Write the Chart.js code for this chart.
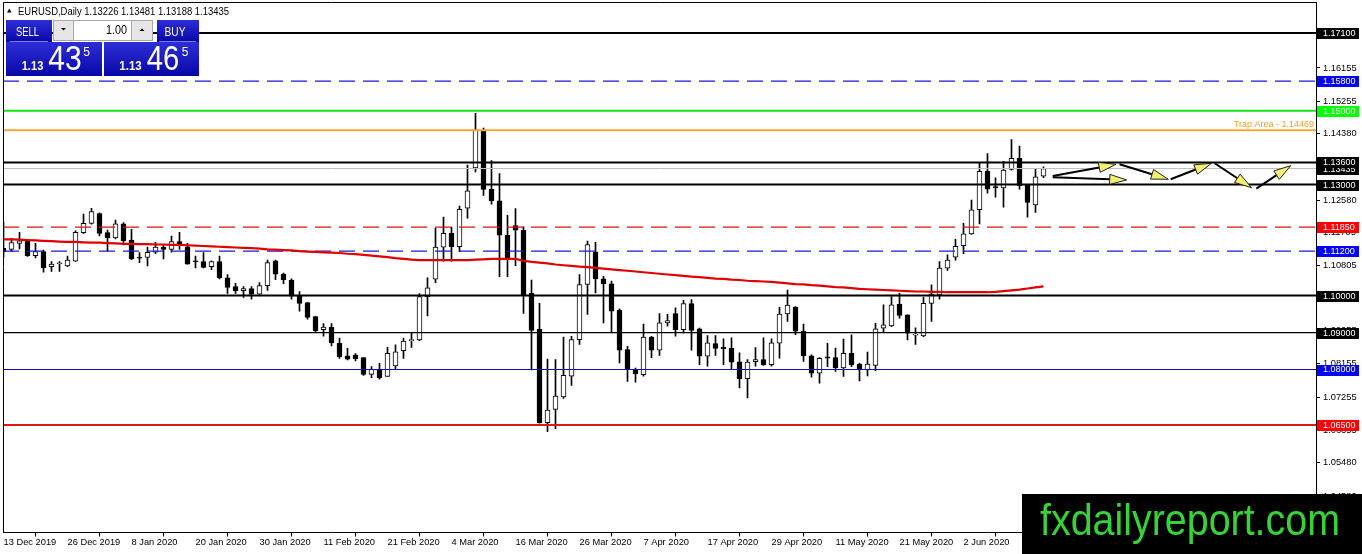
<!DOCTYPE html>
<html><head><meta charset="utf-8">
<script src="https://cdn.jsdelivr.net/npm/chart.js@4.4.0/dist/chart.umd.min.js"></script>
<style>
html,body{margin:0;padding:0;background:#fff;overflow:hidden;}
canvas{display:block;}
</style></head><body>
<canvas id="c" width="1362" height="554"></canvas>
<script>
// ---------------- DATA ----------------
const dateLabels = ["13 Dec 2019","26 Dec 2019","8 Jan 2020","20 Jan 2020","30 Jan 2020","11 Feb 2020","21 Feb 2020","4 Mar 2020","16 Mar 2020","26 Mar 2020","7 Apr 2020","17 Apr 2020","29 Apr 2020","11 May 2020","21 May 2020","2 Jun 2020"];
const dateTickBars = [0,8,16,24,32,40,48,56,64,72,80,88,96,104,112,120];

const opens = [1.1128,1.1125,1.1141,1.1148,1.1108,1.1119,1.1078,1.1086,1.1080,1.1093,
1.1170,1.1195,1.1222,1.1170,1.1156,1.1194,1.1150,1.1104,1.1103,1.1117,
1.1131,1.1125,1.1146,1.1132,1.1093,1.1092,1.1078,1.1092,1.1048,1.1024,
1.1013,1.1019,1.1004,1.1027,1.1094,1.1058,1.1042,1.0998,1.0981,1.0943,
1.0908,1.0914,1.0871,1.0837,1.0839,1.0832,1.0787,1.0801,1.0781,1.0810,
1.0851,1.0878,1.0880,1.0997,1.1044,1.1131,1.1168,1.1132,1.1236,1.1345,
1.1446,1.1287,1.1256,1.1163,1.1189,1.1177,1.1006,1.0909,1.0656,1.0692,
1.0726,1.0782,1.0881,1.1030,1.1118,1.1045,1.1032,1.0960,1.0854,1.0798,
1.0786,1.0888,1.0852,1.0926,1.0951,1.0908,1.0978,1.0910,1.0836,1.0870,
1.0860,1.0857,1.0821,1.0775,1.0821,1.0827,1.0813,1.0871,1.0950,1.0968,
1.0903,1.0837,1.0790,1.0834,1.0832,1.0804,1.0844,1.0815,1.0799,1.0811,
1.0912,1.0918,1.0977,1.0948,1.0893,1.0891,1.0979,1.1002,1.1074,1.1104,
1.1135,1.1167,1.1232,1.1336,1.1295,1.1291,1.1341,1.1371,1.1300,1.1245,1.13226];
const highs = [1.1199,1.1155,1.1171,1.1150,1.1141,1.1123,1.1092,1.1092,1.1107,1.1175,
1.1220,1.1236,1.1224,1.1177,1.1204,1.1197,1.1179,1.1116,1.1131,1.1144,
1.1137,1.1161,1.1171,1.1141,1.1107,1.1116,1.1094,1.1107,1.1057,1.1033,
1.1024,1.1024,1.1035,1.1096,1.1096,1.1061,1.1045,1.1011,1.0981,1.0943,
1.0924,1.0924,1.0885,1.0857,1.0843,1.0832,1.0808,1.0817,1.0860,1.0867,
1.0885,1.0898,1.1005,1.1048,1.1182,1.1212,1.1185,1.1242,1.1353,1.1493,
1.1453,1.1365,1.1330,1.1217,1.1235,1.1186,1.1042,1.0979,1.0828,1.0827,
1.0888,1.0890,1.1057,1.1147,1.1144,1.1052,1.1039,1.0964,1.0863,1.0804,
1.0923,1.0890,1.0951,1.0949,1.0967,1.0987,1.0989,1.0912,1.0892,1.0892,
1.0883,1.0886,1.0845,1.0827,1.0859,1.0886,1.0883,1.0968,1.1015,1.0970,
1.0923,1.0840,1.0832,1.0871,1.0858,1.0882,1.0894,1.0817,1.0847,1.0925,
1.0975,1.0997,1.1006,1.0948,1.0913,1.0995,1.1029,1.1092,1.1110,1.1152,
1.1195,1.1258,1.1359,1.1384,1.1318,1.1363,1.1422,1.1404,1.1300,1.1341,1.13481];
const lows = [1.1104,1.1119,1.1126,1.1106,1.1102,1.1063,1.1065,1.1065,1.1078,1.1092,
1.1168,1.1193,1.1161,1.1121,1.1153,1.1137,1.1097,1.1089,1.1080,1.1114,
1.1099,1.1117,1.1125,1.1085,1.1075,1.1075,1.1070,1.1045,1.1006,1.1006,
1.0995,1.0990,1.0999,1.1014,1.1043,1.1032,1.0990,1.0958,1.0936,1.0901,
1.0890,1.0864,1.0830,1.0826,1.0823,1.0784,1.0778,1.0774,1.0781,1.0800,
1.0830,1.0860,1.0878,1.0945,1.1035,1.1093,1.1093,1.1119,1.1209,1.1334,
1.1271,1.1247,1.1051,1.1051,1.1081,1.0952,1.0799,1.0655,1.0632,1.0640,
1.0722,1.0757,1.0868,1.0949,1.1007,1.0926,1.0899,1.0818,1.0768,1.0766,
1.0782,1.0832,1.0838,1.0917,1.0890,1.0899,1.0852,1.0813,1.0809,1.0838,
1.0813,1.0800,1.0750,1.0723,1.0809,1.0811,1.0809,1.0831,1.0930,1.0894,
1.0822,1.0779,1.0763,1.0808,1.0795,1.0781,1.0808,1.0769,1.0783,1.0797,
1.0900,1.0916,1.0939,1.0880,1.0868,1.0889,1.0930,1.0990,1.1068,1.1096,
1.1113,1.1165,1.1194,1.1277,1.1266,1.1239,1.1339,1.1288,1.1212,1.1225,1.13188];
const closes = [1.1118,1.1143,1.1148,1.1108,1.1119,1.1075,1.1085,1.1088,1.1096,1.1171,
1.1195,1.1227,1.1168,1.1156,1.1194,1.1148,1.1099,1.1101,1.1117,1.1131,
1.1125,1.1146,1.1135,1.1085,1.1091,1.1076,1.1092,1.1048,1.1022,1.1013,
1.1019,1.1004,1.1027,1.1089,1.1058,1.1042,1.0998,1.0979,1.0941,1.0905,
1.0915,1.0872,1.0835,1.0828,1.0829,1.0787,1.0801,1.0778,1.0844,1.0848,
1.0877,1.0880,1.0997,1.1021,1.1131,1.1168,1.1132,1.1233,1.1283,1.1448,
1.1287,1.1256,1.1163,1.1102,1.1177,1.1002,1.0906,1.0656,1.0690,1.0728,
1.0784,1.0881,1.1030,1.1138,1.1045,1.1032,1.0958,1.0852,1.0800,1.0788,
1.0888,1.0852,1.0926,1.0932,1.0908,1.0978,1.0906,1.0836,1.0872,1.0857,
1.0856,1.0820,1.0775,1.0820,1.0827,1.0813,1.0872,1.0950,1.0974,1.0904,
1.0837,1.0790,1.0830,1.0831,1.0804,1.0844,1.0813,1.0799,1.0815,1.0910,
1.0921,1.0975,1.0946,1.0898,1.0895,1.0979,1.1004,1.1074,1.1096,1.1133,
1.1167,1.1232,1.1336,1.1288,1.1291,1.1339,1.1371,1.1297,1.1252,1.1321,1.13435];
const maValues = [1.1152,1.1152,1.1151,1.1150,1.1149,1.1148,1.1147,1.1146,1.1145,1.1145,
1.1144,1.1143,1.1143,1.1142,1.1141,1.1140,1.1140,1.1139,1.1139,1.1138,
1.1138,1.1137,1.1137,1.1136,1.1135,1.1134,1.1133,1.1132,1.1131,1.1130,
1.1129,1.1128,1.1127,1.1125,1.1124,1.1123,1.1122,1.1120,1.1119,1.1118,
1.1117,1.1116,1.1115,1.1113,1.1112,1.1110,1.1108,1.1106,1.1104,1.1101,
1.1099,1.1097,1.1096,1.1096,1.1096,1.1096,1.1096,1.1096,1.1096,1.1097,
1.1098,1.1099,1.1099,1.1099,1.1099,1.1094,1.1091,1.1089,1.1087,1.1084,
1.1082,1.1080,1.1078,1.1077,1.1075,1.1073,1.1071,1.1069,1.1067,1.1065,
1.1063,1.1061,1.1059,1.1057,1.1055,1.1053,1.1051,1.1050,1.1048,1.1046,
1.1045,1.1043,1.1042,1.1040,1.1039,1.1038,1.1037,1.1035,1.1033,1.1031,
1.1030,1.1028,1.1027,1.1025,1.1023,1.1022,1.1020,1.1018,1.1017,1.1016,
1.1015,1.1014,1.1013,1.1012,1.1011,1.1011,1.1010,1.1010,1.1009,1.1009,
1.1009,1.1009,1.1009,1.1009,1.1010,1.1012,1.1014,1.1016,1.1019,1.1022,1.1025];

const yTickValues = [1.17030,1.16155,1.15255,1.14380,1.13505,1.12580,1.11705,1.10805,1.09930,1.09055,1.08155,1.07255,1.06355,1.05480,1.04580];
const levelPrices = [1.171,1.158,1.150,1.14469,1.136,1.130,1.1185,1.112,1.100,1.090,1.080,1.065];
const levelLabels = ["1.17100","1.15800","1.15000","","1.13600","1.13000","1.11850","1.11200","1.10000","1.09000","1.08000","1.06500"];
const currentPrice = 1.13435;
const currentLabel = "1.13435";
const trapText = "Trap Area - 1.14469";
const trapPrice = 1.14469;
const titleText = "EURUSD,Daily 1.13226 1.13481 1.13188 1.13435";
const arrowStart = [[131.15,1.13233],[131.15,1.13198],[139.5,1.13549],[145.9,1.13144],[151.4,1.13577],[156.6,1.12890]];
const arrowEnd   = [[139.06,1.13549],[140.4,1.13125],[145.6,1.13144],[151.0,1.13577],[156.0,1.12917],[160.9,1.13512]];

// ---------------- STYLES ----------------
const levelStyles = [
  {c:'#000000', w:2, box:'#000000'},
  {c:'#1a1ad0', w:1.2, dash:[16,8], box:'#0000ff'},
  {c:'#14e614', w:2, box:'#00ff00'},
  {c:'#f7a836', w:2, box:null},
  {c:'#000000', w:2, box:'#000000'},
  {c:'#000000', w:2, box:'#000000'},
  {c:'#e01010', w:1.2, dash:[16,8], box:'#ff0000'},
  {c:'#1a1ad0', w:1.2, dash:[16,8], box:'#0000ff'},
  {c:'#000000', w:2, box:'#000000'},
  {c:'#000000', w:1.2, box:'#000000'},
  {c:'#1010b0', w:1.2, box:'#0000ff'},
  {c:'#dd1a1a', w:2, box:'#ff0000'}
];
const FONT = "'Liberation Sans', Arial, sans-serif";
const xMin = -0.0625, xMax = 164.0625;
const yMax = 1.17938, yMin = 1.035927;

const idx = opens.map((_, i) => i);
const bodyData = idx.map(i => ({x:i, y:[Math.min(opens[i],closes[i]), Math.max(opens[i],closes[i])]}));
const wickData = idx.map(i => ({x:i, y:[lows[i], highs[i]]}));
const bodyColors = idx.map(i => closes[i] >= opens[i] ? '#ffffff' : '#000000');
const maData = idx.map(i => ({x:i, y:maValues[i]}));

const datasets = [
  {type:'bar', data:wickData, backgroundColor:'#000', borderWidth:0, barThickness:1, grouped:false, order:20},
  {type:'bar', data:bodyData, backgroundColor:bodyColors, borderColor:'#000', borderWidth:1, borderSkipped:false, barThickness:5, minBarLength:1, grouped:false, order:19},
  {type:'line', data:[{x:xMin,y:currentPrice},{x:xMax,y:currentPrice}], borderColor:'#c0c0c0', borderWidth:1, pointRadius:0, order:5}
];
levelPrices.forEach((p, k) => {
  const s = levelStyles[k];
  datasets.push({type:'line', data:[{x:xMin,y:p},{x:xMax,y:p}], borderColor:s.c, borderWidth:s.w, borderDash:s.dash||[], pointRadius:0, order:3});
});
datasets.push({type:'line', data:maData, borderColor:'#e00000', borderWidth:2.2, pointRadius:0, tension:0, order:1});

function fillFit(ctx, text, x, y, font, w) {
  ctx.save();
  ctx.font = font;
  const m = ctx.measureText(text).width;
  ctx.translate(x, y);
  ctx.scale(w / m, 1);
  ctx.fillText(text, 0, 0);
  ctx.restore();
}
function blueRect(ctx, x, y, w, h) {
  const g = ctx.createLinearGradient(0, y, 0, y + h);
  g.addColorStop(0, '#2e2ed8');
  g.addColorStop(1, '#0707a6');
  ctx.fillStyle = g;
  ctx.fillRect(x, y, w, h);
}

const overlay = {
  id:'overlay',
  afterDatasetsDraw(chart) {
    const {ctx, chartArea:a, scales:{x, y}} = chart;
    ctx.save();
    ctx.strokeStyle = '#000'; ctx.lineWidth = 1;
    ctx.beginPath();
    ctx.moveTo(a.left + 0.5, a.bottom); ctx.lineTo(a.left + 0.5, a.top + 0.5); ctx.lineTo(a.right, a.top + 0.5);
    ctx.stroke();
    ctx.fillStyle = '#f0a030';
    ctx.font = "9px " + FONT;
    ctx.textAlign = 'right'; ctx.textBaseline = 'alphabetic';
    ctx.fillText(trapText, a.right - 2, y.getPixelForValue(trapPrice) - 3);
    for (let k = 0; k < arrowStart.length; k++) {
      const x0 = x.getPixelForValue(arrowStart[k][0]), y0 = y.getPixelForValue(arrowStart[k][1]);
      const x1 = x.getPixelForValue(arrowEnd[k][0]), y1 = y.getPixelForValue(arrowEnd[k][1]);
      const ang = Math.atan2(y1 - y0, x1 - x0);
      const L = 17, W = 5;
      const bx = x1 - L * Math.cos(ang), by = y1 - L * Math.sin(ang);
      ctx.strokeStyle = '#000'; ctx.lineWidth = 2;
      ctx.beginPath(); ctx.moveTo(x0, y0); ctx.lineTo(bx, by); ctx.stroke();
      ctx.beginPath();
      ctx.moveTo(x1, y1);
      ctx.lineTo(bx - W * Math.sin(ang), by + W * Math.cos(ang));
      ctx.lineTo(bx + W * Math.sin(ang), by - W * Math.cos(ang));
      ctx.closePath();
      ctx.fillStyle = '#f4ee72'; ctx.fill();
      ctx.lineWidth = 1; ctx.strokeStyle = '#222'; ctx.stroke();
    }
    ctx.restore();
  },
  afterDraw(chart) {
    const {ctx, chartArea:a, scales:{y}} = chart;
    ctx.save();
    const drawBox = (p, txt, col) => {
      const py = y.getPixelForValue(p);
      ctx.fillStyle = col;
      ctx.fillRect(a.right + 1, Math.round(py) - 5, 42, 11);
      ctx.fillStyle = '#fff';
      ctx.font = "9px " + FONT;
      ctx.textAlign = 'left'; ctx.textBaseline = 'middle';
      ctx.fillText(txt, a.right + 7, py + 0.5);
    };
    drawBox(currentPrice, currentLabel, '#000');
    levelPrices.forEach((p, k) => { if (levelStyles[k].box) drawBox(p, levelLabels[k], levelStyles[k].box); });

    ctx.fillStyle = '#000';
    ctx.beginPath(); ctx.moveTo(7, 12.5); ctx.lineTo(11.5, 12.5); ctx.lineTo(9.25, 8.5); ctx.closePath(); ctx.fill();
    ctx.textAlign = 'left'; ctx.textBaseline = 'alphabetic';
    fillFit(ctx, titleText, 18, 15, "11px " + FONT, 211);

    blueRect(ctx, 6, 20, 46, 22);
    blueRect(ctx, 6, 42, 96, 34);
    blueRect(ctx, 157, 20, 42, 22);
    blueRect(ctx, 104, 42, 95, 34);
    ctx.fillStyle = '#7a7af0';
    ctx.fillRect(10, 41, 38, 1);
    ctx.fillRect(159, 41, 37, 1);
    ctx.fillStyle = '#fff'; ctx.fillRect(53, 20, 100, 21);
    ctx.fillStyle = '#e6e6e6'; ctx.fillRect(53, 20, 20, 21); ctx.fillRect(132, 20, 21, 21);
    ctx.strokeStyle = '#a8a8a8'; ctx.lineWidth = 1;
    ctx.strokeRect(53.5, 20.5, 99, 20);
    ctx.beginPath(); ctx.moveTo(73.5, 20.5); ctx.lineTo(73.5, 40.5); ctx.moveTo(131.5, 20.5); ctx.lineTo(131.5, 40.5); ctx.stroke();
    ctx.fillStyle = '#000';
    ctx.beginPath(); ctx.moveTo(61, 28); ctx.lineTo(66, 28); ctx.lineTo(63.5, 30.5); ctx.closePath(); ctx.fill();
    ctx.beginPath(); ctx.moveTo(139.5, 31); ctx.lineTo(144.5, 31); ctx.lineTo(142, 28.5); ctx.closePath(); ctx.fill();
    fillFit(ctx, "1.00", 106, 34, "12px " + FONT, 21);
    ctx.fillStyle = '#fff';
    fillFit(ctx, "SELL", 16, 35.5, "13px " + FONT, 23);
    fillFit(ctx, "BUY", 164.5, 35.5, "13px " + FONT, 21);
    fillFit(ctx, "1.13", 21.7, 70, "bold 13px " + FONT, 21.6);
    fillFit(ctx, "43", 48.3, 69.5, "35px " + FONT, 33.4);
    fillFit(ctx, "5", 83.3, 56.3, "13px " + FONT, 6.7);
    fillFit(ctx, "1.13", 119.3, 70, "bold 13px " + FONT, 22.4);
    fillFit(ctx, "46", 146.7, 69.5, "35px " + FONT, 32.6);
    fillFit(ctx, "5", 181.7, 56.3, "13px " + FONT, 6.7);

    ctx.fillStyle = '#000';
    ctx.fillRect(1022, 494, 340, 60);
    ctx.fillStyle = '#38d238';
    fillFit(ctx, "fxdailyreport.com", 1040, 535, "45px " + FONT, 300);
    ctx.restore();
  }
};

new Chart(document.getElementById('c'), {
  type:'bar',
  data:{datasets},
  options:{
    responsive:false, animation:false, devicePixelRatio:1,
    layout:{padding:{left:3, top:2, right:0, bottom:0}},
    plugins:{legend:{display:false}, tooltip:{enabled:false}},
    scales:{
      x:{type:'linear', min:xMin, max:xMax, offset:false,
        grid:{display:true, drawOnChartArea:false, drawTicks:true, tickLength:4, color:'#000'},
        border:{display:true, color:'#000', width:1},
        ticks:{autoSkip:false, maxRotation:0, minRotation:0, align:'start', padding:0, color:'#000',
          font:{family:FONT, size:9.3},
          callback:(v) => { const k = dateTickBars.indexOf(v); return k >= 0 ? dateLabels[k] : ''; }},
        afterBuildTicks:(s) => { s.ticks = dateTickBars.map(v => ({value:v})); },
        afterFit:(s) => { s.height = 21.5; s.paddingLeft = 0; s.paddingRight = 0; }
      },
      y:{type:'linear', position:'right', min:yMin, max:yMax,
        grid:{display:true, drawOnChartArea:false, drawTicks:true, tickLength:4, color:'#000'},
        border:{display:true, color:'#000', width:1},
        ticks:{autoSkip:false, padding:3, color:'#000', font:{family:FONT, size:9.3},
          callback:(v) => Number(v).toFixed(5)},
        afterBuildTicks:(s) => { s.ticks = yTickValues.map(v => ({value:v})); },
        afterFit:(s) => { s.width = 46; s.paddingTop = 0; s.paddingBottom = 0; }
      }
    }
  },
  plugins:[overlay]
});
</script>
</body></html>
